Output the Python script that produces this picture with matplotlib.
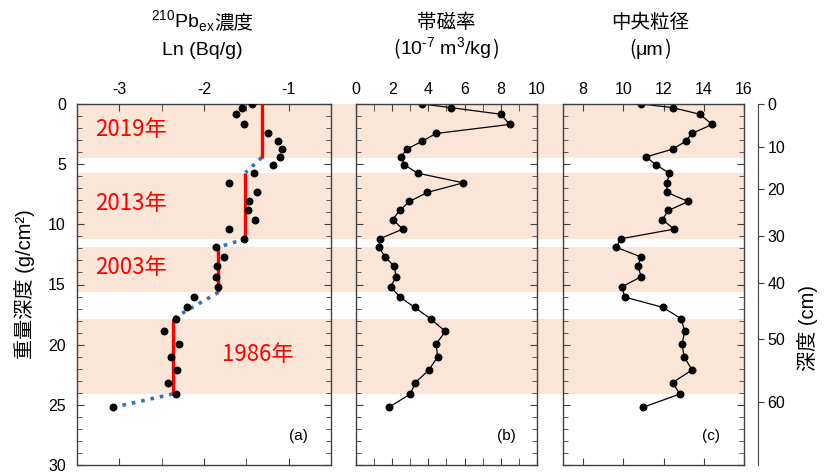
import matplotlib
matplotlib.use("Agg")
import matplotlib.pyplot as plt
from matplotlib.ticker import MultipleLocator, FixedLocator

plt.rcParams['font.family'] = ['Liberation Sans', 'Noto Sans CJK JP']
plt.rcParams['mathtext.fontset'] = 'custom'
plt.rcParams['mathtext.rm'] = 'Liberation Sans'

CJK = 'Noto Sans CJK JP'
LAT = 'Liberation Sans'

# mass depth of each sample (g/cm2)
depth = [0.0, 0.3, 0.85, 1.7, 2.45, 3.1, 3.75, 4.4, 5.05, 5.75, 6.55, 7.35,
         8.1, 8.85, 9.6, 10.4, 11.2, 11.9, 12.7, 13.5, 14.35, 15.2, 16.05,
         16.9, 17.85, 18.9, 19.95, 21.0, 22.1, 23.15, 24.1, 25.2]

# ln of excess 210Pb (Bq/g)
pb_ln = [-1.43, -1.55, -1.62, -1.53, -1.245, -1.13, -1.08, -1.10, -1.18, -1.41,
         -1.71, -1.37, -1.47, -1.48, -1.40, -1.70, -1.53, -1.86, -1.76, -1.85,
         -1.86, -1.83, -2.12, -2.20, -2.33, -2.47, -2.30, -2.39, -2.32, -2.42,
         -2.33, -3.07]

# magnetic susceptibility (1e-7 m3/kg)
susceptibility = [3.66, 5.23, 8.0, 8.49, 4.42, 3.65, 2.80, 2.49, 2.67, 3.41,
                  5.93, 3.94, 2.95, 2.41, 2.03, 2.58, 1.31, 1.27, 1.60, 2.12,
                  2.21, 1.92, 2.43, 3.24, 4.12, 4.94, 4.42, 4.51, 4.03, 3.28,
                  3.0, 1.82]

# median grain size (um)
median_size = [10.89, 12.45, 13.80, 14.42, 13.40, 13.10, 12.45, 11.13, 11.62,
               12.29, 12.17, 12.17, 13.23, 12.24, 11.94, 12.52, 9.88, 9.64,
               10.86, 10.73, 10.89, 9.92, 10.08, 11.97, 12.88, 13.05, 12.92,
               13.02, 13.42, 12.45, 12.81, 10.99]

# dated layers
years = ['2019年', '2013年', '2003年', '1986年']
period_top = [0.0, 5.7, 11.9, 17.85]
period_bottom = [4.45, 11.2, 15.65, 24.1]
period_pb = [-1.32, -1.51, -1.83, -2.37]

# depth in cm against mass depth (right axis)
cm_ticks = [0, 10, 20, 30, 40, 50, 60]
cm_mass_depth = [0.0, 3.55, 7.1, 10.95, 14.9, 19.55, 24.75]

W, H = 828, 474
fig = plt.figure(figsize=(W / 100, H / 100), dpi=100)

top_px, bot_px = 104, 465
bot = 1 - bot_px / H
hgt = (bot_px - top_px) / H
band_color = '#fbe5d6'
spine_c = '#404040'

# shaded period bands behind all panels
bg = fig.add_axes([77 / W, bot, (744 - 77) / W, hgt])
bg.set_ylim(30, 0)
bg.set_xlim(0, 1)
for t, b in zip(period_top, period_bottom):
    bg.axhspan(t, b, color=band_color, lw=0)
bg.axis('off')


def style(ax):
    ax.set_facecolor('none')
    ax.set_ylim(30, 0)
    for s in ax.spines.values():
        s.set_color(spine_c)
        s.set_linewidth(1.0)
    ax.yaxis.set_major_locator(MultipleLocator(5))
    ax.yaxis.set_minor_locator(MultipleLocator(1))
    ax.tick_params(which='both', direction='in', top=True, bottom=True,
                   left=True, right=True, color=spine_c, labelsize=11.5,
                   labeltop=True, labelbottom=False, pad=5)
    ax.tick_params(which='major', length=5)
    ax.tick_params(which='minor', length=3.5)


ax_a = fig.add_axes([77 / W, bot, 254 / W, hgt])
ax_b = fig.add_axes([356 / W, bot, 181 / W, hgt])
ax_c = fig.add_axes([563 / W, bot, 181 / W, hgt])
for ax in (ax_a, ax_b, ax_c):
    style(ax)

# (a) 210Pb
ax_a.set_xlim(-3.5, -0.5)
ax_a.xaxis.set_major_locator(FixedLocator([-3, -2, -1]))
ax_a.xaxis.set_minor_locator(FixedLocator([-2.5, -1.5]))
ax_a.set_xticklabels(['-3', '-2', '-1'])
ax_a.tick_params(axis='x', which='minor', length=5)
ax_a.set_yticks(range(0, 31, 5))
ax_a.tick_params(axis='y', labelleft=True, pad=8)
link_x = []
link_y = []
for i in range(3):
    link_x.append([period_pb[i], period_pb[i + 1]])
    link_y.append([period_bottom[i], period_top[i + 1]])
link_x.append([period_pb[3], pb_ln[-1]])
link_y.append([period_bottom[3], depth[-1]])
for lx, ly in zip(link_x, link_y):
    ax_a.plot(lx, ly, ':', color='#2e75b6', lw=2.6, zorder=2)
for x, t, b in zip(period_pb, period_top, period_bottom):
    ax_a.plot([x, x], [t, b], color='red', lw=2.4, solid_capstyle='butt', zorder=3)
ax_a.plot(pb_ln, depth, 'o', color='black', ms=4.7, zorder=4)
year_x = [-3.29, -3.29, -3.29, -1.79]
year_y = [2.1, 8.3, 13.6, 20.8]
for s, x, y in zip(years, year_x, year_y):
    ax_a.text(x, y, s, color='red', fontsize=16, family=CJK, ha='left', va='center')
ax_a.text(0.87, 0.08, '(a)', transform=ax_a.transAxes, fontsize=11, ha='center', va='center')

# (b) susceptibility
ax_b.set_xlim(0, 10)
ax_b.xaxis.set_major_locator(MultipleLocator(2))
ax_b.xaxis.set_minor_locator(MultipleLocator(1))
ax_b.tick_params(axis='x', which='minor', length=5)
ax_b.tick_params(axis='y', labelleft=False)
ax_b.plot(susceptibility, depth, '-o', color='black', lw=0.9, ms=4.7)
ax_b.text(0.83, 0.08, '(b)', transform=ax_b.transAxes, fontsize=11, ha='center', va='center')

# (c) median grain size
ax_c.set_xlim(7, 16)
ax_c.xaxis.set_major_locator(FixedLocator([8, 10, 12, 14, 16]))
ax_c.xaxis.set_minor_locator(FixedLocator([]))
ax_c.tick_params(axis='y', labelleft=False)
ax_c.plot(median_size, depth, '-o', color='black', lw=0.9, ms=4.7)
ax_c.text(0.82, 0.08, '(c)', transform=ax_c.transAxes, fontsize=11, ha='center', va='center')

# right depth axis in cm
ax_r = fig.add_axes([(758 - 10) / W, bot, 10 / W, hgt])
ax_r.set_facecolor('none')
ax_r.set_ylim(30, 0)
ax_r.set_xticks([])
for k in ('left', 'top', 'bottom'):
    ax_r.spines[k].set_visible(False)
ax_r.spines['right'].set_color(spine_c)
ax_r.yaxis.tick_right()
ax_r.set_yticks(cm_mass_depth)
ax_r.set_yticklabels([str(v) for v in cm_ticks])
ax_r.tick_params(axis='y', direction='out', length=4, pad=3, color=spine_c, labelsize=11.5)

# axis labels
fig.text(25 / W, 1 - 284 / H, '重量深度 (g/cm²)', rotation=90, fontsize=14.5,
         family=[LAT, CJK], ha='center', va='center')
fig.text(808 / W, 1 - 328 / H, '深度 (cm)', rotation=90, fontsize=14.5,
         family=[LAT, CJK], ha='center', va='center')

# column titles built from pieces so CJK and math can sit side by side
renderer = fig.canvas.get_renderer()


def title_row(pieces, xc, yb):
    texts = [fig.text(0, 1 - yb / H, s, family=f, fontsize=14, va='baseline', ha='left')
             for s, f in pieces]
    widths = [t.get_window_extent(renderer).width for t in texts]
    x = xc - sum(widths) / 2
    for t, w in zip(texts, widths):
        t.set_x(x / W)
        x += w


title_row([(r'$^{\mathdefault{210}}$Pb$_{\mathdefault{ex}}$', LAT), ('濃度', CJK)], 202, 28)
title_row([('Ln (Bq/g)', LAT)], 202, 55)
title_row([('帯磁率', CJK)], 446, 28)
title_row([('(', CJK), (r'10$^{\text{-7}}$ m$^{\mathdefault{3}}$/kg', LAT), (')', CJK)], 446, 55)
title_row([('中央粒径', CJK)], 650, 28)
title_row([('(', CJK), ('μm', LAT), (')', CJK)], 650, 55)

fig.savefig('out.png', dpi=100)
